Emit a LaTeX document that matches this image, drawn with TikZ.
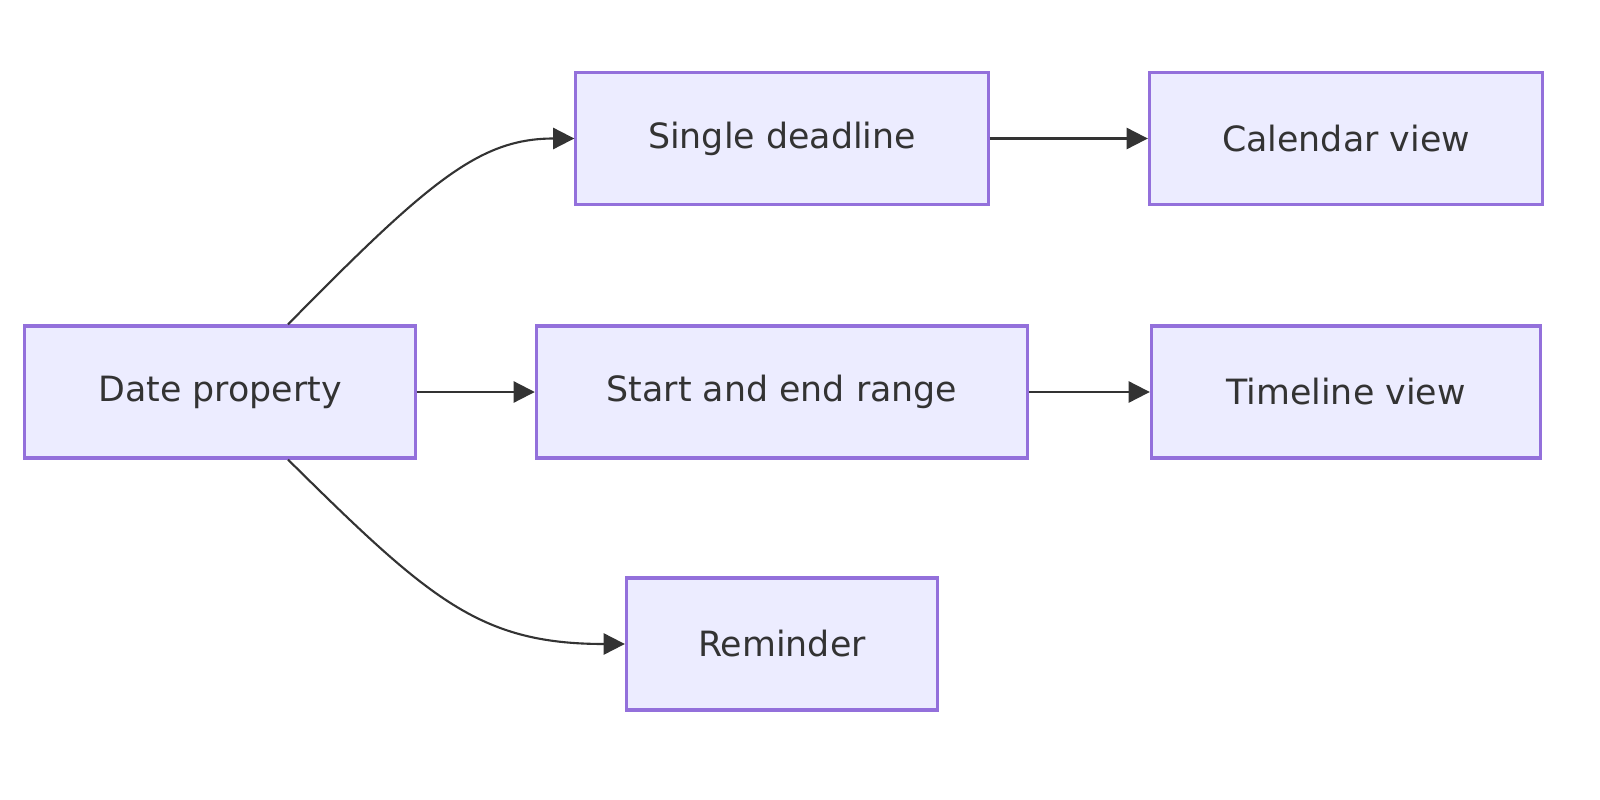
\documentclass[tikz,border=0pt]{standalone}
\usepackage{fontspec}
\setmainfont{DejaVu Sans}
\usetikzlibrary{arrows.meta}
\definecolor{boxfill}{HTML}{ECECFF}
\definecolor{boxline}{HTML}{9370DB}
\definecolor{edgecol}{HTML}{333333}

\begin{document}
\begin{tikzpicture}[x=0.01cm,y=-0.01cm,
    box/.style={draw=boxline, fill=boxfill, line width=0.9pt, minimum height=1.32cm, font=\fontsize{9.9}{12}\selectfont, text=edgecol},
    flow/.style={draw=edgecol, line width=0.6pt, -{Triangle[length=6pt,width=6pt]}}]
    \useasboundingbox (0,0) rectangle (1600,800);

    % Boxes
    \node[box, minimum width=3.9cm]  (date)     at (220,392)   {Date property};
    \node[box, minimum width=4.12cm] (deadline) at (782,138.5) {Single deadline};
    \node[box, minimum width=4.91cm] (range)    at (782,392)   {Start and end range};
    \node[box, minimum width=3.11cm] (remind)   at (782,644)   {Reminder};
    \node[box, minimum width=3.93cm] (calendar) at (1346,138.5) {Calendar view};
    \node[box, minimum width=3.89cm] (timeline) at (1346,392)  {Timeline view};

    % Curved branches
    \coordinate (dtop) at ([xshift=0.68cm]date.north);
    \coordinate (dbot) at ([xshift=0.68cm]date.south);
    \draw[flow] (dtop) .. controls (430,180) and (480,138.5) .. (deadline.west);
    \draw[flow] (dbot) .. controls (430,600) and (480,644) .. (remind.west);

    % Straight arrows
    \draw[flow] (date) -- (range);
    \draw[flow] (deadline) -- (calendar);
    \draw[flow] (range) -- (timeline);
\end{tikzpicture}
\end{document}
